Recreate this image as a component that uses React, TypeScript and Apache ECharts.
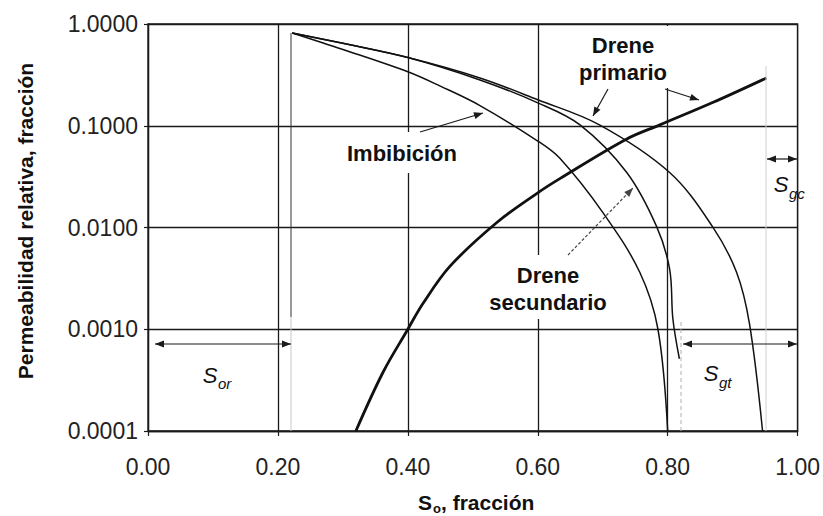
import React, { useEffect, useRef } from "react";
import * as echarts from "echarts";

// Saturation ticks (x) and relative permeability decades (y)
const xTicks = [0, 0.2, 0.4, 0.6, 0.8, 1.0];
const yTicks = [0.0001, 0.001, 0.01, 0.1, 1];

// Imbibición (oil curve, innermost)
const imbS = [0.222, 0.30, 0.40, 0.45, 0.511, 0.60, 0.634, 0.70, 0.757, 0.785, 0.80];
const imbKr = [0.817, 0.562, 0.339, 0.245, 0.158, 0.0708, 0.0479, 0.0141, 0.00363, 0.0010, 0.0001];

// Drene secundario (oil curve, middle)
const secS = [0.222, 0.30, 0.40, 0.511, 0.60, 0.665, 0.737, 0.783, 0.803, 0.808, 0.818];
const secKr = [0.817, 0.646, 0.468, 0.282, 0.168, 0.102, 0.0347, 0.0102, 0.00389, 0.00126, 0.000513];

// Drene primario (oil curve, outer)
const priS = [0.222, 0.30, 0.40, 0.511, 0.60, 0.695, 0.803, 0.869, 0.906, 0.926, 0.946];
const priKr = [0.817, 0.646, 0.468, 0.295, 0.180, 0.102, 0.0347, 0.0102, 0.00363, 0.00112, 0.0001];

// Gas curve (bold)
const gasS = [0.32, 0.362, 0.40, 0.423, 0.465, 0.537, 0.60, 0.634, 0.737, 0.788, 0.87, 0.952];
const gasKr = [0.0001, 0.00038, 0.001, 0.00178, 0.00417, 0.0112, 0.0219, 0.0302, 0.0741, 0.102, 0.170, 0.295];

const zip = (a: number[], b: number[]) => a.map((v, i) => [v, b[i]]);

const INK = "#1a1a1a";
const FONT = "Liberation Sans";

function arrow(
  x1: number, y1: number, x2: number, y2: number,
  opts: { both?: boolean; color?: string; dash?: number[]; width?: number } = {}
) {
  const color = opts.color || INK;
  const w = opts.width || 1.2;
  const L = 9, H = 3.5;
  const dx = x2 - x1, dy = y2 - y1;
  const len = Math.sqrt(dx * dx + dy * dy);
  const ux = dx / len, uy = dy / len;
  const px = -uy, py = ux;
  const head = (tx: number, ty: number, sx: number, sy: number) => ({
    type: "polygon",
    z: 20,
    shape: {
      points: [
        [tx, ty],
        [tx - sx * L + px * H, ty - sy * L + py * H],
        [tx - sx * L - px * H, ty - sy * L - py * H],
      ],
    },
    style: { fill: color },
  });
  const els: any[] = [
    {
      type: "line",
      z: 20,
      shape: { x1, y1, x2, y2 },
      style: { stroke: color, lineWidth: w, lineDash: opts.dash || null },
    },
    head(x2, y2, ux, uy),
  ];
  if (opts.both) els.push(head(x1, y1, -ux, -uy));
  return els;
}

function txt(text: string, x: number, y: number, o: any = {}) {
  return {
    type: "text",
    z: 30,
    x,
    y,
    rotation: o.rotation || 0,
    style: {
      text,
      x: 0,
      y: 0,
      fontSize: o.size || 22,
      fontWeight: o.weight || "bold",
      fontStyle: o.style || "normal",
      fontFamily: FONT,
      fill: o.color || "#111",
      align: o.align || "center",
      textAlign: o.align || "center",
      verticalAlign: "middle",
      textVerticalAlign: "middle",
    },
  };
}

function whiteRect(x: number, y: number, width: number, height: number) {
  return { type: "rect", z: 10, shape: { x, y, width, height }, style: { fill: "#fff" } };
}

function vline(x: number, y1: number, y2: number, color: string, width = 1, dash: number[] | null = null) {
  return { type: "line", z: 5, shape: { x1: x, y1, x2: x, y2 }, style: { stroke: color, lineWidth: width, lineDash: dash } };
}

export default function App() {
  const ref = useRef<HTMLDivElement>(null);
  useEffect(() => {
    if (!ref.current) return;
    const chart = echarts.init(ref.current, undefined, { renderer: "svg" });
    const lineSeries = (name: string, data: number[][], width: number) => ({
      name,
      type: "line",
      data,
      symbol: "none",
      smooth: 0.35,
      z: 3,
      lineStyle: { color: "#111", width },
    });
    const graphic: any[] = [
      // faint reference lines
      vline(291, 33, 317, "#333", 1),
      vline(291, 317, 431, "#c8c8c8", 1),
      vline(681, 322, 431, "#b0b0b0", 1, [4, 3]),
      vline(766, 66, 431, "#d0d0d0", 1),
      // white boxes breaking gridlines behind labels
      whiteRect(574, 26, 98, 62),
      whiteRect(340, 132, 126, 41),
      whiteRect(484, 255, 128, 64),
      // labels
      txt("Drene", 623, 45),
      txt("primario", 623, 72),
      txt("Imbibición", 402, 153),
      txt("Drene", 548, 275),
      txt("secundario", 548, 302),
      // S labels
      txt("S", 210, 375, { weight: "normal", style: "italic", size: 22 }),
      txt("or", 218, 383, { weight: "normal", style: "italic", size: 15, align: "left" }),
      txt("S", 711, 373, { weight: "normal", style: "italic", size: 22 }),
      txt("gt", 719, 382, { weight: "normal", style: "italic", size: 15, align: "left" }),
      txt("S", 781, 184, { weight: "normal", style: "italic", size: 22 }),
      txt("gc", 789, 193, { weight: "normal", style: "italic", size: 15, align: "left" }),
      // axis titles
      txt("S", 425, 502, { size: 21 }),
      txt("o", 433, 508, { size: 13, align: "left" }),
      txt(", fracción", 441, 502, { size: 21, align: "left" }),
      txt("Permeabilidad relativa, fracción", 25, 221, { size: 21, rotation: Math.PI / 2 }),
      // arrows
      ...arrow(420, 132, 483, 113),
      ...arrow(608, 89, 593, 116),
      ...arrow(665, 89, 699, 100),
      ...arrow(568, 255, 633, 188, { color: "#444", dash: [3, 2] }),
      ...arrow(155, 344, 291, 344, { both: true }),
      ...arrow(683, 344, 797, 344, { both: true }),
      ...arrow(767, 159, 797, 159, { both: true }),
    ];
    chart.setOption({
      animation: false,
      backgroundColor: "#fff",
      grid: {
        left: 148,
        top: 24,
        width: 650,
        height: 407,
        show: true,
        borderColor: INK,
        borderWidth: 1.3,
        backgroundColor: "transparent",
      },
      xAxis: {
        type: "value",
        min: xTicks[0],
        max: xTicks[xTicks.length - 1],
        interval: 0.2,
        axisLine: { show: true, onZero: false, lineStyle: { color: INK, width: 1.3 } },
        axisTick: { show: true, length: 5, lineStyle: { color: INK, width: 1.2 } },
        axisLabel: {
          formatter: (v: number) => v.toFixed(2),
          fontSize: 23,
          fontFamily: FONT,
          color: "#222",
          margin: 24,
        },
        splitLine: { show: true, lineStyle: { color: INK, width: 1.3 } },
      },
      yAxis: {
        type: "log",
        logBase: 10,
        min: yTicks[0],
        max: yTicks[yTicks.length - 1],
        axisLine: { show: true, lineStyle: { color: INK, width: 1.3 } },
        axisTick: { show: true, length: 4, lineStyle: { color: INK, width: 1.2 } },
        axisLabel: {
          formatter: (v: number) => v.toFixed(4),
          fontSize: 23,
          fontFamily: FONT,
          color: "#222",
          margin: 10,
        },
        splitLine: { show: true, lineStyle: { color: INK, width: 1.3 } },
      },
      series: [
        lineSeries("Imbibición", zip(imbS, imbKr), 1.5),
        lineSeries("Drene secundario", zip(secS, secKr), 1.5),
        lineSeries("Drene primario", zip(priS, priKr), 1.5),
        lineSeries("Gas", zip(gasS, gasKr), 2.8),
      ],
      graphic,
    });
    return () => chart.dispose();
  }, []);
  return (
    <div
      ref={ref}
      style={{ position: "absolute", left: 0, top: 0, width: 823, height: 516, background: "#fff" }}
    />
  );
}
